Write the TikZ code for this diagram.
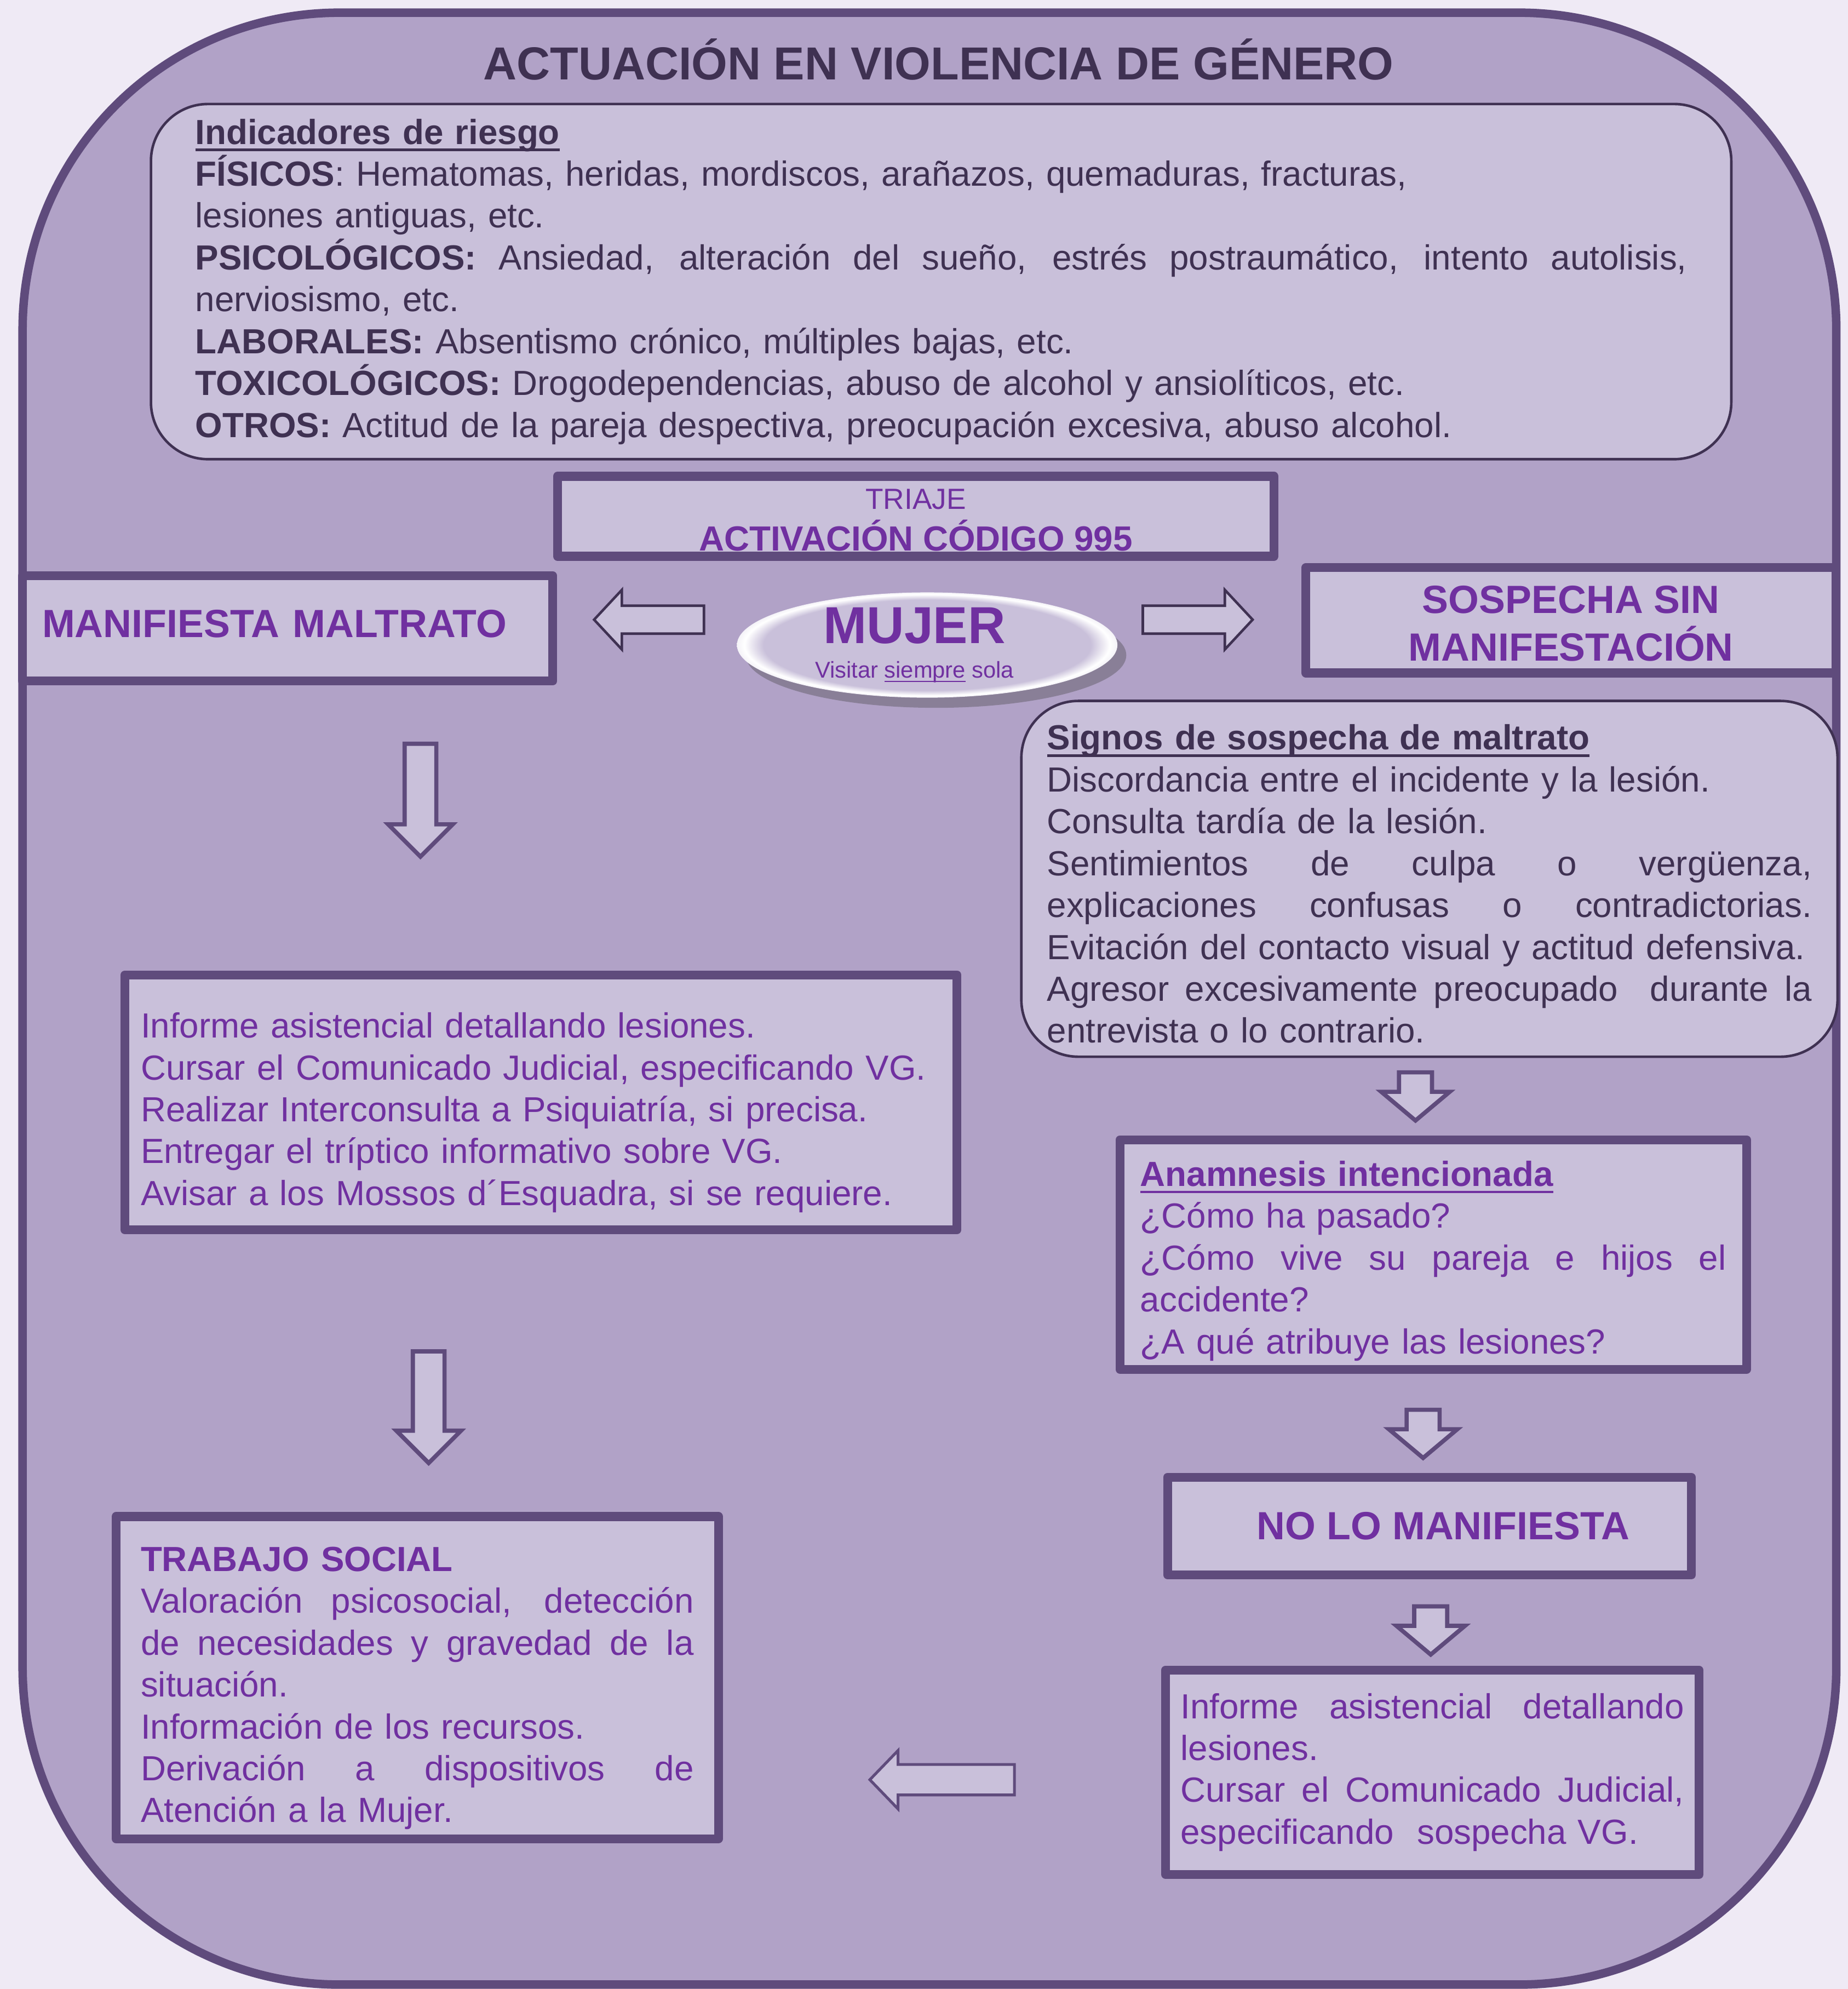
\documentclass[tikz,border=0pt]{standalone}
\usepackage{fontspec}
\setmainfont{Liberation Sans}
\usepackage{xcolor}
\usetikzlibrary{shapes.geometric,shapes.arrows,shadows}
\definecolor{paper}{HTML}{EFEAF5}
\definecolor{mauve}{HTML}{B1A2C7}
\definecolor{plum}{HTML}{5F4B7C}
\definecolor{plumdk}{HTML}{3F3152}
\definecolor{lilac}{HTML}{C9C0DA}
\definecolor{grape}{HTML}{7030A0}
\colorlet{rim}{white!80!lilac}
\setlength{\parindent}{0pt}
\newcommand{\fBody}{\fontsize{27.5}{33}\selectfont}
\newcommand{\fHead}{\fontsize{31}{37.5}\selectfont\bfseries}
\newcommand{\jline}[2]{\leavevmode\hbox to #1{\spaceskip=0.278em plus 1fil\relax\xspaceskip=\spaceskip #2}}
\newcommand{\topgap}[1]{\rule{0pt}{#1}}
\newcommand{\ulin}[1]{\setbox0=\hbox{#1}\rlap{\rule[-0.2em]{\wd0}{0.07em}}\box0\relax}
\pgfdeclareradialshading{gloss}{\pgfpoint{0bp}{0bp}}{color(0bp)=(lilac); color(21.5bp)=(lilac); color(24bp)=(white); color(25bp)=(rim); color(50bp)=(rim)}
\tikzset{
  hardbox/.style={draw=plum,line width=7pt,line join=round,fill=lilac,text=grape,font=\fBody,inner sep=0pt},
  softbox/.style={draw=plumdk,line width=2pt,fill=lilac,rounded corners=45pt,text=plumdk,font=\fBody,inner sep=0pt,align=left},
  blkdown/.style={single arrow,draw=plum,line width=3.3pt,fill=lilac,rotate=270,anchor=tail,inner xsep=4pt,inner ysep=10.85pt,single arrow head extend=13pt,single arrow tip angle=90},
  blkshort/.style={blkdown,inner ysep=11.35pt,single arrow head extend=14pt,single arrow tip angle=100,minimum height=38pt},
  blkside/.style={single arrow,draw=plumdk,line width=2pt,fill=lilac,anchor=tail,inner xsep=4pt,inner ysep=10pt,single arrow head extend=12.5pt,single arrow tip angle=94},
  mujerell/.style={ellipse,shade,shading=gloss,minimum width=300pt,minimum height=83pt,inner xsep=0pt,inner ysep=-1.5pt,align=center,text=grape,font=\fontsize{18}{27}\selectfont,drop shadow={shadow xshift=7pt,shadow yshift=-8pt,opacity=.35,fill=black!75}}
}
\begin{document}
\begin{tikzpicture}[x=1pt,y=-1pt]
  \useasboundingbox (0,0) rectangle (1457,1568);
  \fill[paper] (0,0) rectangle (1457,1568);
  \draw[plum,line width=6.7pt,fill=mauve,rounded corners=250pt] (17.8,10) rectangle (1447.8,1564.5);
  \node[anchor=base,text=plumdk,font=\fontsize{36.5}{40}\selectfont\bfseries] (title) at (740,63) {ACTUACIÓN EN VIOLENCIA DE GÉNERO};
  % indicadores
  \node[softbox,text width=1176pt,minimum width=1246pt,minimum height=280pt] (ind) at (742,222) {%
    {\bfseries\ulin{Indicadores de riesgo}}\\
    {\bfseries FÍSICOS}: Hematomas, heridas, mordiscos, arañazos, quemaduras, fracturas,\\
    lesiones antiguas, etc.\\
    \jline{1176pt}{{\bfseries PSICOLÓGICOS:} Ansiedad, alteración del sueño, estrés postraumático, intento autolisis,}\\
    nerviosismo, etc.\\
    {\bfseries LABORALES:} Absentismo crónico, múltiples bajas, etc.\\
    {\bfseries TOXICOLÓGICOS:} Drogodependencias, abuso de alcohol y ansiolíticos, etc.\\
    {\bfseries OTROS:} Actitud de la pareja despectiva, preocupación excesiva, abuso alcohol.};
  \node[hardbox,minimum width=565pt,minimum height=63pt,align=center] (triaje) at (722,407) {\topgap{22pt}{\fontsize{23}{33}\selectfont TRIAJE}\\{\bfseries ACTIVACIÓN CÓDIGO 995}};
  \node[hardbox,font=\fHead,text width=387pt,minimum width=418pt,minimum height=83pt,align=left] (manif) at (226.8,495.4) {MANIFIESTA MALTRATO\rule[-8pt]{0pt}{8pt}};
  \node[hardbox,font=\fHead,minimum width=418pt,minimum height=83pt,align=center] (sosp) at (1238.6,489) {\topgap{27pt}SOSPECHA SIN\\MANIFESTACIÓN};
  \node[mujerell] (mujer) at (731,508.5) {{\fontsize{41}{27}\selectfont\bfseries MUJER}\hspace*{20pt}\\Visitar \ulin{siempre} sola\hspace*{20pt}};
  \node[blkside,rotate=180,minimum height=86.6pt] (arrL) at (556,488.5) {};
  \node[blkside,minimum height=86.6pt] (arrR) at (900,488.5) {};
  % rama izquierda
  \node[blkdown,minimum height=89pt] (dnA) at (331.5,584.7) {};
  \node[hardbox,text width=631pt,minimum width=656pt,minimum height=201pt,align=left] (inf1) at (426.5,869) {%
    \topgap{36pt}Informe asistencial detallando lesiones.\\
    Cursar el Comunicado Judicial, especificando VG.\\
    Realizar Interconsulta a Psiquiatría, si precisa.\\
    Entregar el tríptico informativo sobre VG.\\
    Avisar a los Mossos d´Esquadra, si se requiere.};
  \node[blkdown,minimum height=88pt] (dnB) at (338,1063.7) {};
  \node[hardbox,text width=436pt,minimum width=475pt,minimum height=254pt,align=left] (trab) at (329,1322.5) {%
    \topgap{36pt}{\bfseries TRABAJO SOCIAL}\\
    \jline{436pt}{Valoración psicosocial, detección}\\
    \jline{436pt}{de necesidades y gravedad de la}\\
    situación.\\
    Información de los recursos.\\
    \jline{436pt}{Derivación a dispositivos de}\\
    Atención a la Mujer.};
  % rama derecha
  \node[softbox,text width=603pt,minimum width=643.5pt,minimum height=280.5pt] (signos) at (1127,692.8) {%
    \topgap{28pt}{\bfseries\ulin{Signos de sospecha de maltrato}}\\
    Discordancia entre el incidente y la lesión.\\
    Consulta tardía de la lesión.\\
    \jline{603pt}{Sentimientos de culpa o vergüenza,}\\
    \jline{603pt}{explicaciones confusas o contradictorias.}\\
    Evitación del contacto visual y actitud defensiva.\\
    \jline{603pt}{Agresor excesivamente preocupado\ \ durante la}\\
    entrevista o lo contrario.};
  \node[blkshort] (dnC) at (1116,843.7) {};
  \node[hardbox,text width=462pt,minimum width=494pt,minimum height=181pt,align=left] (anam) at (1130,989) {%
    \topgap{30pt}{\bfseries\ulin{Anamnesis intencionada}}\\
    ¿Cómo ha pasado?\\
    \jline{462pt}{¿Cómo vive su pareja e hijos el}\\
    accidente?\\
    ¿A qué atribuye las lesiones?};
  \node[blkshort] (dnD) at (1122,1109.7) {};
  \node[hardbox,font=\fHead,minimum width=413pt,minimum height=77pt] (nolo) at (1127,1203) {\hspace*{22pt}NO LO MANIFIESTA};
  \node[blkshort] (dnE) at (1128,1264.7) {};
  \node[hardbox,text width=397pt,minimum width=420.5pt,minimum height=161.2pt,align=left] (inf2) at (1129.3,1397.1) {%
    \jline{397pt}{Informe asistencial detallando}\\
    lesiones.\\
    \jline{397pt}{Cursar el Comunicado Judicial,}\\
    especificando\ \ sospecha VG.};
  \node[blkside,draw=plum,line width=2.2pt,rotate=180,inner ysep=10.9pt,single arrow head extend=11pt,single arrow tip angle=92,minimum height=114pt] (arrB) at (800.9,1403) {};
\end{tikzpicture}
\end{document}
